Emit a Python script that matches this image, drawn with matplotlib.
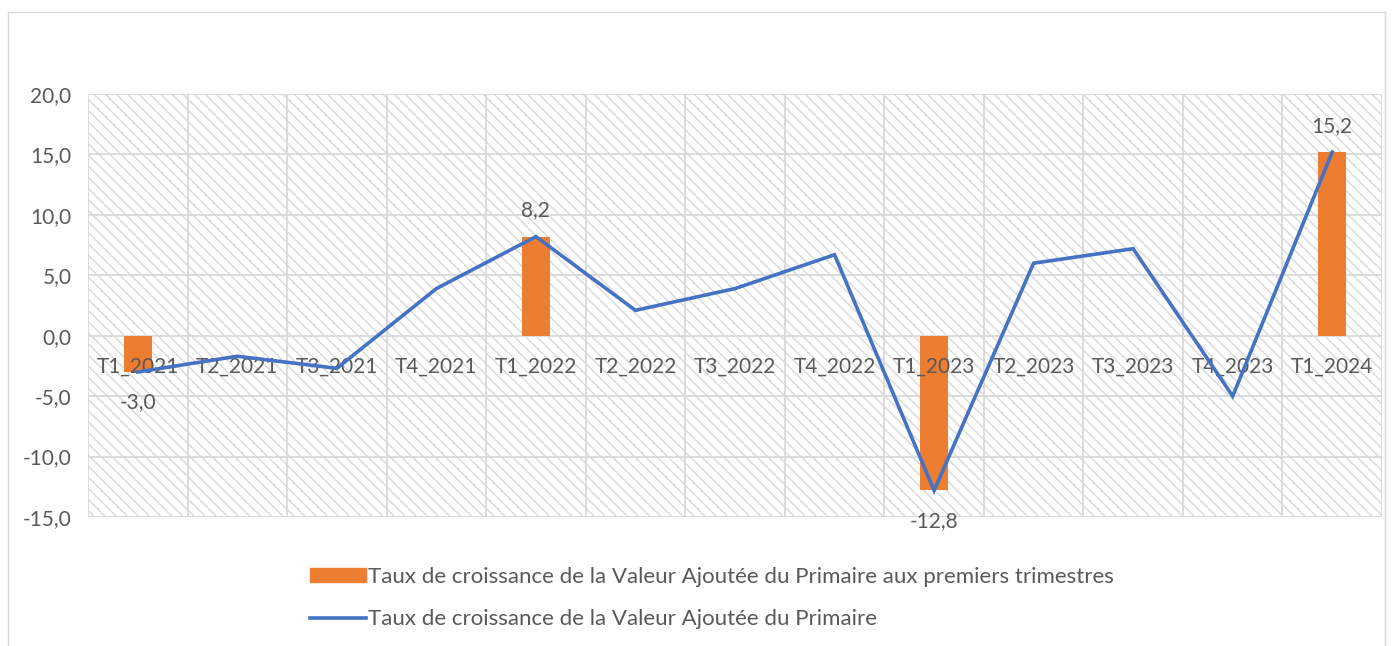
import matplotlib.pyplot as plt
from matplotlib.patches import Rectangle
from matplotlib.lines import Line2D
import numpy as np

plt.rcParams['font.family'] = ['Lato', 'DejaVu Sans']
plt.rcParams['hatch.color'] = '#e2e2e2'
plt.rcParams['hatch.linewidth'] = 1.0

categories = ['T1_2021', 'T2_2021', 'T3_2021', 'T4_2021',
              'T1_2022', 'T2_2022', 'T3_2022', 'T4_2022',
              'T1_2023', 'T2_2023', 'T3_2023', 'T4_2023', 'T1_2024']
growth = [-3.0, -1.7, -2.7, 3.9, 8.2, 2.1, 3.9, 6.7, -12.8, 6.0, 7.2, -5.0, 15.2]
first_quarter = [-3.0, np.nan, np.nan, np.nan, 8.2, np.nan, np.nan, np.nan,
                 -12.8, np.nan, np.nan, np.nan, 15.2]
yticks = [-15, -10, -5, 0, 5, 10, 15, 20]

label_bar = "Taux de croissance de la Valeur Ajoutée du Primaire aux premiers trimestres"
label_line = "Taux de croissance de la Valeur Ajoutée du Primaire"

txt = '#595959'
grid_c = '#d9d9d9'
fs = 15

fig = plt.figure(figsize=(13.94, 6.46), dpi=100)
W, H = 1394, 646

# outer chart frame
fig.add_artist(Line2D([8 / W, 8 / W], [0, 1 - 12 / H], transform=fig.transFigure, color=grid_c, lw=1))
fig.add_artist(Line2D([8 / W, 1385 / W], [1 - 12 / H, 1 - 12 / H], transform=fig.transFigure, color=grid_c, lw=1))
fig.add_artist(Line2D([1385 / W, 1385 / W], [0, 1 - 12 / H], transform=fig.transFigure, color=grid_c, lw=1))

ax = fig.add_axes([88 / W, 1 - 517 / H, (1382 - 88) / W, (517 - 94) / H])
ax.patch.set_visible(False)
ax.add_patch(Rectangle((0, 0), 1, 1, transform=ax.transAxes, facecolor='white',
                       edgecolor=grid_c, hatch='\\' * 3, lw=0, zorder=0))

x = np.arange(len(categories))
ax.bar(x, first_quarter, width=0.28, color='#ED7D31', zorder=3)
ax.plot(x, growth, color='#4472C4', lw=2.6, zorder=4, solid_joinstyle='miter')

ax.set_xlim(-0.5, len(categories) - 0.5)
ax.set_ylim(-15, 20)
ax.set_yticks(yticks)
ax.set_yticklabels([f"{v:.1f}".replace('.', ',') for v in yticks], color=txt, fontsize=fs)
ax.set_xticks(np.arange(len(categories) + 1) - 0.5)
ax.set_xticklabels([])
ax.tick_params(axis='both', which='both', length=0)
ax.tick_params(axis='y', pad=12)
for s in ax.spines.values():
    s.set_visible(False)
ax.grid(True, color=grid_c, lw=1.3, zorder=1)
ax.set_axisbelow(True)

# category labels just under the zero line
for i, c in enumerate(categories):
    ax.annotate(c, (i, 0), xytext=(0, -22), textcoords='offset points', ha='center', va='center',
                color=txt, fontsize=fs, zorder=3.5)

for i, v in enumerate(first_quarter):
    if np.isnan(v):
        continue
    off = 19 if v > 0 else -22
    ax.annotate(f"{v:.1f}".replace('.', ','), (i, v), xytext=(0, off), textcoords='offset points',
                ha='center', va='center', color=txt, fontsize=fs, zorder=5)

handles = [Rectangle((0, 0), 1, 1, color='#ED7D31'),
           Line2D([0], [0], color='#4472C4', lw=2.6)]
fig.legend(handles, [label_bar, label_line], loc='upper left',
           bbox_to_anchor=(290 / W, 1 - 547 / H), frameon=False, fontsize=16,
           labelcolor=txt, labelspacing=1.0, handlelength=2.5, handleheight=0.55,
           handletextpad=0.1)

fig.savefig('out.png', dpi=100)
